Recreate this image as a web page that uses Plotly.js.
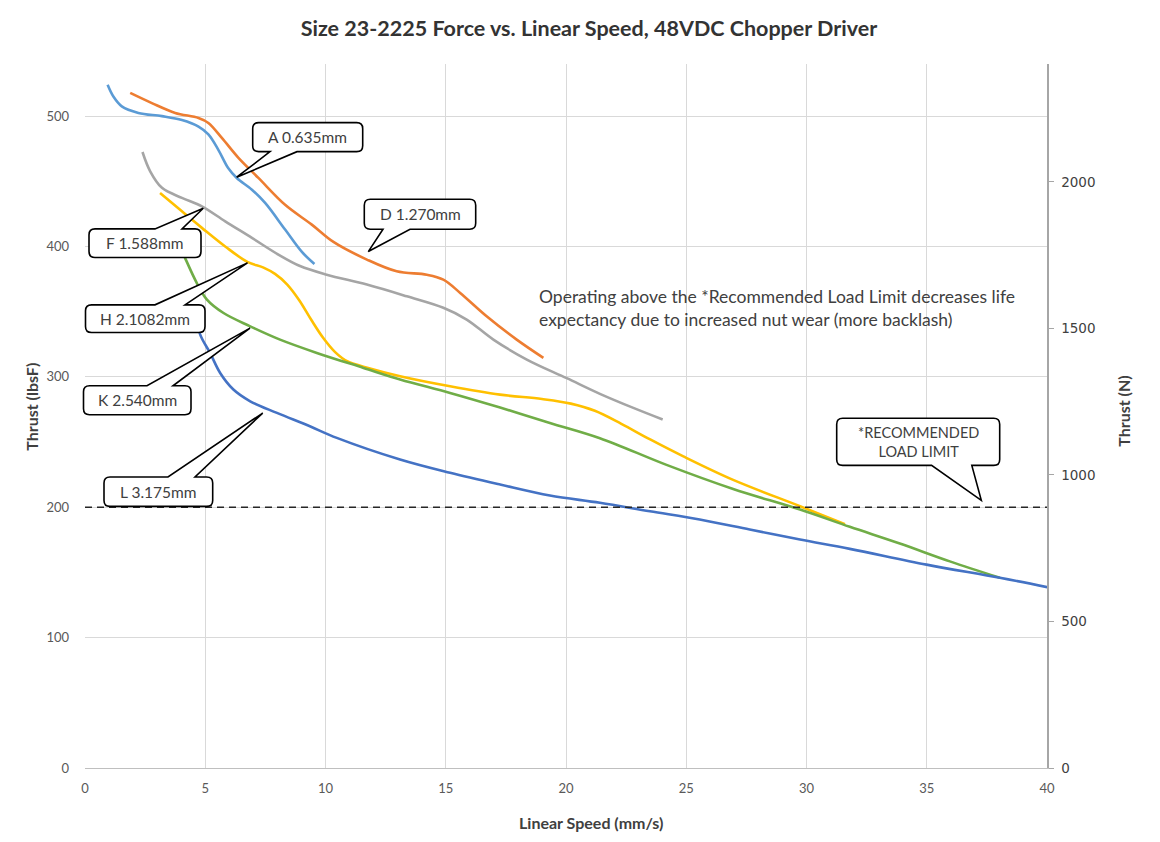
<!DOCTYPE html>
<html>
<head>
<meta charset="utf-8">
<script src="https://cdn.plot.ly/plotly-3.0.1.min.js"></script>
<style>
html,body{margin:0;padding:0;background:#fff;}
#chart{width:1160px;height:842px;}
</style>
</head>
<body>
<div id="chart"></div>
<script>
// ---- Data (speed in mm/s, thrust in lbsF) ----
const A_x = [0.94,1.18,1.53,2.22,3.2,4.03,4.72,5.13,5.55,5.96,6.31,6.94,7.49,8.32,9.01,9.54];
const A_y = [524,515,507.5,502.5,500,497,492,486,474,460,452.6,443.6,433.4,413,396,386.6];

const D_x = [1.88,2.78,3.75,4.72,5.13,5.69,6.38,7.21,8.32,9.43,10.33,11.72,12.96,14.21,14.9,15.6,16.7,17.95,19.06];
const D_y = [517.8,510,502.5,498.6,494.8,483.3,468,452.6,432,416.8,403.5,390,381,378.4,374.6,364.4,346.5,328.6,314.6];

const F_x = [2.39,2.71,3.2,4.03,4.86,5.83,6.94,8.04,8.94,10.05,11.72,13.38,14.9,15.87,16.98,18.37,20.03,21.41,22.8,24.02];
const F_y = [472.5,457.7,445,437.3,430.8,419.3,406.6,393.8,385,378.4,370.8,361.8,353,344,328.6,313.3,299,287,276.2,267.3];

const H_x = [3.12,4.03,4.86,5.83,6.77,7.4,7.9,8.4,8.9,9.4,9.9,10.4,10.9,11.85,13.1,15.18,17.26,19.0,20.2,21.2,22.3,23.5,24.88,26.95,29.73,31.6];
const H_y = [441,427,414.3,400,388,384,379,371,359,344,330,319,312,306.5,300.5,292.8,286.4,283,279.5,274,264,252,239,221,200.8,187];

const K_x = [3.55,4.16,4.65,5.07,5.76,6.87,8.11,9.64,11.58,13.1,15.18,17.26,19.33,21.41,24.18,26.95,29.73,31.8,33.88,35.96,38.04];
const K_y = [418,391.3,372,359.3,349,338.8,328.6,318.4,306.9,298,287.7,276.5,264.7,253,232.5,214,198.2,185,172.2,158.5,145.9];

const L_x = [4.62,4.79,5.2,5.62,6.17,6.87,7.98,9.35,10.47,13.1,15.18,17.26,19.33,21.41,23.49,25.56,27.64,29.73,31.8,34.99,38.04,40.02];
const L_y = [348,332.4,318.4,303,290.3,281.3,272.4,262.1,253.2,236.6,226.4,217.4,209,203.4,196.9,190.6,182.9,175.2,168.1,156,145.9,138.7];

const LIMIT_x = [0,40];
const LIMIT_y = [200,200];

const seriesNames = ["A 0.635mm","D 1.270mm","F 1.588mm","H 2.1082mm","K 2.540mm","L 3.175mm"];
const seriesColors = ["#5B9BD5","#ED7D31","#A5A5A5","#FFC000","#70AD47","#4472C4"];

const titleText = "Size 23-2225 Force vs. Linear Speed, 48VDC Chopper Driver";
const noteText = "Operating above the *Recommended Load Limit decreases life<br>expectancy due to increased nut wear (more backlash)";
const limitText = "*RECOMMENDED<br>LOAD LIMIT";
const LBF_TO_N = 4.44822;
const Y_MAX = 540;

// ---- Layout geometry ----
const W = 1160, Hh = 842;
const M = {l:85, r:113, t:64, b:73.5};
const PW = W - M.l - M.r, PH = Hh - M.t - M.b;
const px2p = px => (px - M.l) / PW;           // pixel -> paper x
const py2p = py => (Hh - M.b - py) / PH;      // pixel -> paper y

const font = "Lato, 'Open Sans', sans-serif";

function line(x, y, i) {
  return {x:x, y:y, type:'scatter', mode:'lines', name:seriesNames[i],
    line:{color:seriesColors[i], width:2.6, shape:'spline', smoothing:1},
    hoverinfo:'skip', showlegend:false};
}

const traces = [
  line(A_x, A_y, 0), line(D_x, D_y, 1), line(F_x, F_y, 2),
  line(H_x, H_y, 3), line(K_x, K_y, 4), line(L_x, L_y, 5),
  {x:LIMIT_x, y:LIMIT_y, type:'scatter', mode:'lines', name:'limit',
   line:{color:'#262626', width:1.6, dash:'7px,5px'}, hoverinfo:'skip', showlegend:false},
  {x:[0], y:[0], yaxis:'y2', type:'scatter', mode:'lines', line:{width:0}, hoverinfo:'skip', showlegend:false}
];

// ---- Callouts (pixel geometry of box + wedge) ----
const callouts = [
  {text:"A 0.635mm",  box:[252.7,122.7,362.7,151.7], side:'bottom', w:[270,297], tip:[236.7,177.3]},
  {text:"D 1.270mm",  box:[364.3,199.3,475.7,229.3], side:'bottom', w:[383,410], tip:[368.3,251.7]},
  {text:"F 1.588mm",  box:[89,229,201,257.7],        side:'top',    w:[155,182], tip:[203.3,208.3]},
  {text:"H 2.1082mm", box:[85.5,305,205,332.7],      side:'top',    w:[155,185], tip:[247.5,263]},
  {text:"K 2.540mm",  box:[83.5,386,191,415],        side:'top',    w:[147,173], tip:[250,328.3]},
  {text:"L 3.175mm",  box:[104,477.3,212.7,506.7],   side:'top',    w:[168,195], tip:[262.7,413.3]},
  {text:limitText,    box:[836.7,418.5,999.7,465.7], side:'bottom', w:[931.6,971.8], tip:[981.3,500.7]}
];

function P(x,y){ return px2p(x).toFixed(5) + ',' + py2p(y).toFixed(5); }
function calloutPath(c) {
  const [x0,y0,x1,y1] = c.box, r = 6;
  let d = 'M' + P(x0+r,y0);
  if (c.side==='top') d += ' L' + P(c.w[0],y0) + ' L' + P(c.tip[0],c.tip[1]) + ' L' + P(c.w[1],y0);
  d += ' L' + P(x1-r,y0) + ' Q' + P(x1,y0) + ' ' + P(x1,y0+r);
  d += ' L' + P(x1,y1-r) + ' Q' + P(x1,y1) + ' ' + P(x1-r,y1);
  if (c.side==='bottom') d += ' L' + P(c.w[1],y1) + ' L' + P(c.tip[0],c.tip[1]) + ' L' + P(c.w[0],y1);
  d += ' L' + P(x0+r,y1) + ' Q' + P(x0,y1) + ' ' + P(x0,y1-r);
  d += ' L' + P(x0,y0+r) + ' Q' + P(x0,y0) + ' ' + P(x0+r,y0) + ' Z';
  return d;
}

const shapes = callouts.map(c => ({type:'path', xref:'paper', yref:'paper', path:calloutPath(c),
  fillcolor:'#ffffff', line:{color:'#000000', width:1.6}, layer:'above'}));

const annotations = callouts.map((c,i) => ({
  xref:'paper', yref:'paper', x:px2p((c.box[0]+c.box[2])/2), y:py2p((c.box[1]+c.box[3])/2),
  xanchor:'center', yanchor:'middle', showarrow:false, text:c.text,
  font:{family:font, size:(i===6?14.5:15.5), color:'#404040'}
}));

annotations.push(
  {xref:'paper', yref:'paper', x:px2p(537), y:py2p(308.5), xanchor:'left', yanchor:'middle', align:'left',
   showarrow:false, text:noteText, font:{family:font, size:17.5, color:'#404040'}},
  {xref:'paper', yref:'paper', x:px2p(32), y:py2p(407), xanchor:'center', yanchor:'middle', textangle:-90,
   showarrow:false, text:'<b>Thrust (lbsF)</b>', font:{family:font, size:16, color:'#404040'}},
  {xref:'paper', yref:'paper', x:px2p(1124), y:py2p(412), xanchor:'center', yanchor:'middle', textangle:-90,
   showarrow:false, text:'<b>Thrust (N)</b>', font:{family:font, size:16, color:'#404040'}},
  {xref:'paper', yref:'paper', x:px2p(591), y:py2p(823), xanchor:'center', yanchor:'middle',
   showarrow:false, text:'<b>Linear Speed (mm/s)</b>', font:{family:font, size:16, color:'#404040'}}
);

const layout = {
  width:W, height:Hh, margin:M, paper_bgcolor:'#ffffff', plot_bgcolor:'#ffffff',
  showlegend:false,
  title:{text:'<b>'+titleText+'</b>', x:589/W, xref:'container', xanchor:'center',
         y:1-28/Hh, yref:'container', yanchor:'middle', font:{family:font, size:21.5, color:'#333333'}},
  xaxis:{range:[0,40], dtick:5, tick0:0, showgrid:true, gridcolor:'#D9D9D9', gridwidth:1,
         zeroline:false, showline:true, linecolor:'#BFBFBF', linewidth:1.3, ticks:'', ticklabelstandoff:8,
         tickfont:{family:font, size:13, color:'#595959'}, fixedrange:true},
  yaxis:{range:[0,Y_MAX], dtick:100, tick0:0, showgrid:true, gridcolor:'#D9D9D9', gridwidth:1,
         zeroline:false, showline:false, ticks:'', ticklabelstandoff:15,
         tickfont:{family:font, size:13, color:'#595959'}, fixedrange:true},
  yaxis2:{overlaying:'y', side:'right', range:[0, Y_MAX*LBF_TO_N], dtick:500, tick0:0, showgrid:false,
          zeroline:false, showline:true, linecolor:'#A6A6A6', linewidth:1.5, ticks:'outside', ticklen:5,
          tickcolor:'#A6A6A6', ticklabelstandoff:5,
          tickfont:{family:"'DejaVu Sans', sans-serif", size:13.5, color:'#404040'}, fixedrange:true},
  shapes:shapes, annotations:annotations
};

Plotly.newPlot('chart', traces, layout, {staticPlot:true, displayModeBar:false});
</script>
</body>
</html>
